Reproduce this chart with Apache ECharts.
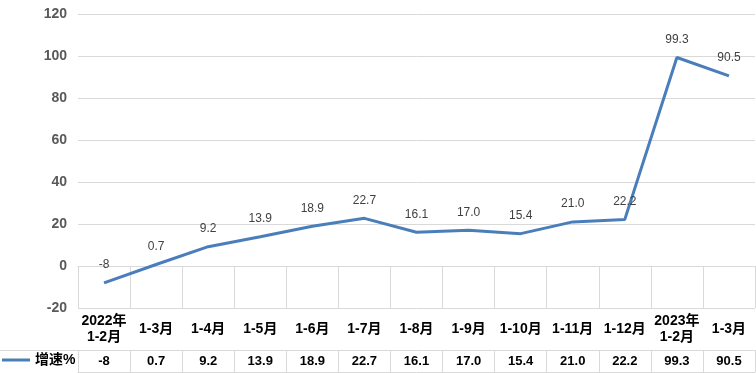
<!DOCTYPE html>
<html>
<head>
<meta charset="utf-8">
<script src="https://cdn.jsdelivr.net/npm/echarts@6/dist/echarts.min.js"></script>
<style>html,body{margin:0;padding:0;background:#fff;}#c{width:756px;height:373px;}</style>
</head>
<body>
<div id="c"></div>
<script>
var categories = ['2022年\n1-2月','1-3月','1-4月','1-5月','1-6月','1-7月','1-8月','1-9月','1-10月','1-11月','1-12月','2023年\n1-2月','1-3月'];
var growth = [-8, 0.7, 9.2, 13.9, 18.9, 22.7, 16.1, 17.0, 15.4, 21.0, 22.2, 99.3, 90.5];
var growthText = ['-8','0.7','9.2','13.9','18.9','22.7','16.1','17.0','15.4','21.0','22.2','99.3','90.5'];
var seriesName = '增速%';
var yTicks = {min: -20, max: 120, interval: 20};

var chart = echarts.init(document.getElementById('c'), null, {renderer: 'canvas'});
var border = '#d9d9d9';
var lineColor = '#4A7EBB';
var font = "'Liberation Sans','Noto Sans CJK SC',sans-serif";
chart.setOption({
  animation: false,
  textStyle: {fontFamily: font},
  grid: {left: 78, right: 1, top: 14, bottom: 65, containLabel: false},
  legend: {
    left: 2, top: 353, padding: 0, icon: 'rect', itemWidth: 28, itemHeight: 3, itemGap: 5,
    data: [{name: seriesName, itemStyle: {color: lineColor}}],
    textStyle: {fontWeight: 700, fontSize: 14, color: '#000', fontFamily: font}
  },
  xAxis: [
    {
      type: 'category', data: categories, position: 'bottom', boundaryGap: true,
      axisLine: {show: true, lineStyle: {color: border, width: 1}},
      axisTick: {show: true, interval: 0, length: 42, lineStyle: {color: border}},
      axisLabel: {interval: 0, margin: 21, verticalAlign: 'middle', lineHeight: 16,
        fontSize: 14, fontWeight: 'bold', color: '#000', fontFamily: font},
      splitLine: {show: false}
    },
    {
      type: 'category', data: growthText, position: 'bottom', offset: 42, boundaryGap: true,
      axisLine: {show: true, lineStyle: {color: border, width: 1}},
      axisTick: {show: true, interval: 0, length: 22, lineStyle: {color: border}},
      axisLabel: {interval: 0, margin: 11, verticalAlign: 'middle',
        fontSize: 13, fontWeight: 'bold', color: '#000', fontFamily: font}
    },
    {
      type: 'category', data: growthText, position: 'bottom', offset: 64, boundaryGap: true,
      axisLine: {show: true, lineStyle: {color: border, width: 1}},
      axisTick: {show: false},
      axisLabel: {show: false}
    }
  ],
  yAxis: {
    type: 'value', min: yTicks.min, max: yTicks.max, interval: yTicks.interval,
    axisLine: {show: false}, axisTick: {show: false},
    axisLabel: {margin: 11, fontSize: 14, fontWeight: 'bold', color: '#595959', fontFamily: font},
    splitLine: {lineStyle: {color: border, width: 1}}
  },
  graphic: [
    {type: 'line', shape: {x1: 0, y1: 350.5, x2: 78, y2: 350.5}, style: {stroke: border, lineWidth: 1}, silent: true}
  ],
  series: [{
    name: seriesName, type: 'line', data: growth, xAxisIndex: 0,
    symbol: 'circle', symbolSize: 0, showSymbol: true,
    lineStyle: {color: lineColor, width: 3}, itemStyle: {color: lineColor},
    label: {show: true, position: 'top', distance: 12, fontSize: 12, color: '#404040',
      fontFamily: font,
      formatter: function (p) { return growthText[p.dataIndex]; }}
  }]
});
</script>
</body>
</html>
